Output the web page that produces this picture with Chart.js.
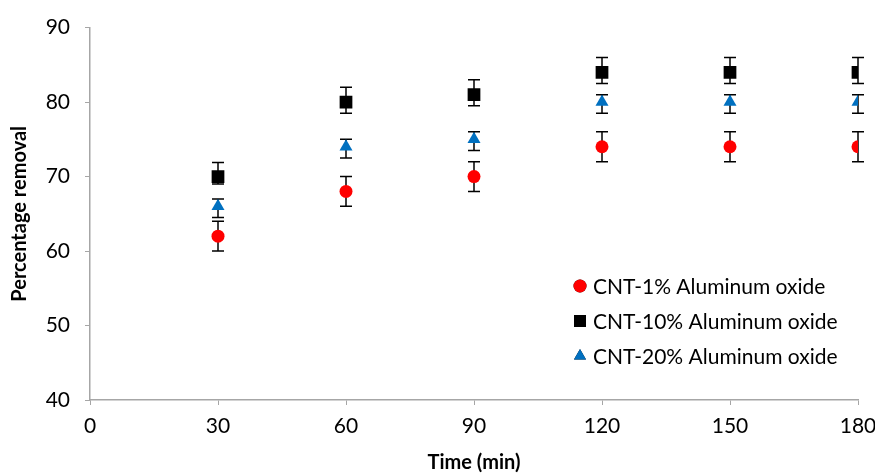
<!DOCTYPE html>
<html>
<head>
<meta charset="utf-8">
<script src="https://cdn.jsdelivr.net/npm/chart.js@4.4.1/dist/chart.umd.min.js"></script>
<style>
  html, body { margin: 0; padding: 0; background: #fff; }
  #wrap { width: 875px; height: 475px; }
</style>
</head>
<body>
<div id="wrap"><canvas id="removalChart" width="875" height="475"></canvas></div>
<script>
// time points (min)
var times = [30, 60, 90, 120, 150, 180];

var seriesNames = ['CNT-1% Aluminum oxide', 'CNT-10% Aluminum oxide', 'CNT-20% Aluminum oxide'];

// percentage removal
var cnt1 = [62, 68, 70, 74, 74, 74];
var cnt10 = [70, 80, 81, 84, 84, 84];
var cnt20 = [66, 74, 75, 80, 80, 80];

// error bars (up / down)
var cnt1ErrUp = [2, 2, 2, 2, 2, 2];
var cnt1ErrDown = [2, 2, 2, 2, 2, 2];
var cnt10ErrUp = [1.9, 2, 2, 2, 2, 2];
var cnt10ErrDown = [1, 1.5, 1.5, 1.5, 1.5, 1.5];
var cnt20ErrUp = [1, 1, 1, 1, 1, 1];
var cnt20ErrDown = [1.5, 1.5, 1.5, 1.5, 1.5, 1.5];

var xTicks = [0, 30, 60, 90, 120, 150, 180];
var yTicks = [40, 50, 60, 70, 80, 90];

var FONT = 'Lato, "Liberation Sans", sans-serif';

function points(vals) {
    return times.map(function(t, i) { return { x: t, y: vals[i] }; });
}

// draws the vertical error bars behind the markers
var errorBars = {
    id: 'errorBars',
    beforeDatasetsDraw: function(chart) {
        var ctx = chart.ctx;
        var xs = chart.scales.x, ys = chart.scales.y;
        ctx.save();
        ctx.strokeStyle = '#000';
        ctx.lineWidth = 1.5;
        chart.data.datasets.forEach(function(ds) {
            ds.data.forEach(function(p, i) {
                var px = xs.getPixelForValue(p.x);
                var top = ys.getPixelForValue(p.y + ds.errUp[i]);
                var bot = ys.getPixelForValue(p.y - ds.errDown[i]);
                ctx.beginPath();
                ctx.moveTo(px, top); ctx.lineTo(px, bot);
                ctx.moveTo(px - 6, top); ctx.lineTo(px + 6, top);
                ctx.moveTo(px - 6, bot); ctx.lineTo(px + 6, bot);
                ctx.stroke();
            });
        });
        ctx.restore();
    }
};

// legend sitting inside the plot, lower right
var insideLegend = {
    id: 'insideLegend',
    afterDraw: function(chart) {
        var ctx = chart.ctx;
        var x0 = 580, y0 = 286, gap = 35;
        ctx.save();
        ctx.font = '21px ' + FONT;
        ctx.textBaseline = 'middle';
        chart.data.datasets.forEach(function(ds, i) {
            var y = y0 + i * gap;
            Chart.helpers.drawPoint(ctx, {
                pointStyle: ds.pointStyle,
                radius: ds.legendRadius,
                borderWidth: 0
            }, x0, y);
            ctx.fillStyle = ds.backgroundColor;
            ctx.fill();
            ctx.fillStyle = '#000';
            ctx.fillText(ds.label, x0 + 13, y + 1);
        });
        ctx.restore();
    }
};

var ctx = document.getElementById('removalChart').getContext('2d');
var chart = new Chart(ctx, {
    type: 'scatter',
    data: {
        datasets: [{
            label: seriesNames[0],
            data: points(cnt1),
            errUp: cnt1ErrUp, errDown: cnt1ErrDown,
            pointStyle: 'circle', pointRadius: 6.5, legendRadius: 6.5,
            backgroundColor: '#FF0000', borderColor: '#FF0000', borderWidth: 0
        }, {
            label: seriesNames[1],
            data: points(cnt10),
            errUp: cnt10ErrUp, errDown: cnt10ErrDown,
            pointStyle: 'rect', pointRadius: 9, legendRadius: 8.5,
            backgroundColor: '#000000', borderColor: '#000000', borderWidth: 0
        }, {
            label: seriesNames[2],
            data: points(cnt20),
            errUp: cnt20ErrUp, errDown: cnt20ErrDown,
            pointStyle: 'triangle', pointRadius: 7.5, legendRadius: 7,
            backgroundColor: '#0070C0', borderColor: '#0070C0', borderWidth: 0
        }]
    },
    options: {
        responsive: false,
        animation: false,
        layout: { padding: { top: 27, right: 17, left: 0, bottom: 0 } },
        plugins: {
            legend: { display: false },
            tooltip: { enabled: false }
        },
        scales: {
            x: {
                type: 'linear', min: 0, max: 180,
                afterBuildTicks: function(axis) { axis.ticks = xTicks.map(function(v) { return { value: v }; }); },
                afterFit: function(axis) {
                    axis.height = 75;
                    // let the last label hang over the right edge like the original
                    axis.paddingRight = 0;
                    axis.paddingLeft = 0;
                },
                grid: { drawOnChartArea: false, drawTicks: true, tickLength: 5, color: '#A6A6A6' },
                border: { color: '#A6A6A6', width: 1.5 },
                ticks: { color: '#000', padding: 9, font: { family: FONT, size: 21 } },
                title: {
                    display: true, text: 'Time (min)', color: '#000',
                    font: { family: FONT, size: 20, weight: 'bold' }, padding: { top: 4, bottom: 0 }
                }
            },
            y: {
                min: 40, max: 90,
                afterBuildTicks: function(axis) { axis.ticks = yTicks.map(function(v) { return { value: v }; }); },
                afterFit: function(axis) { axis.width = 90; },
                grid: { drawOnChartArea: false, drawTicks: true, tickLength: 5, color: '#A6A6A6' },
                border: { color: '#A6A6A6', width: 1.5 },
                ticks: { color: '#000', padding: 15, font: { family: FONT, size: 21 } },
                title: {
                    display: true, text: 'Percentage removal', color: '#000',
                    font: { family: FONT, size: 20, weight: 'bold' }, padding: { top: 8, bottom: 0 }
                }
            }
        }
    },
    plugins: [errorBars, insideLegend]
});
</script>
</body>
</html>
